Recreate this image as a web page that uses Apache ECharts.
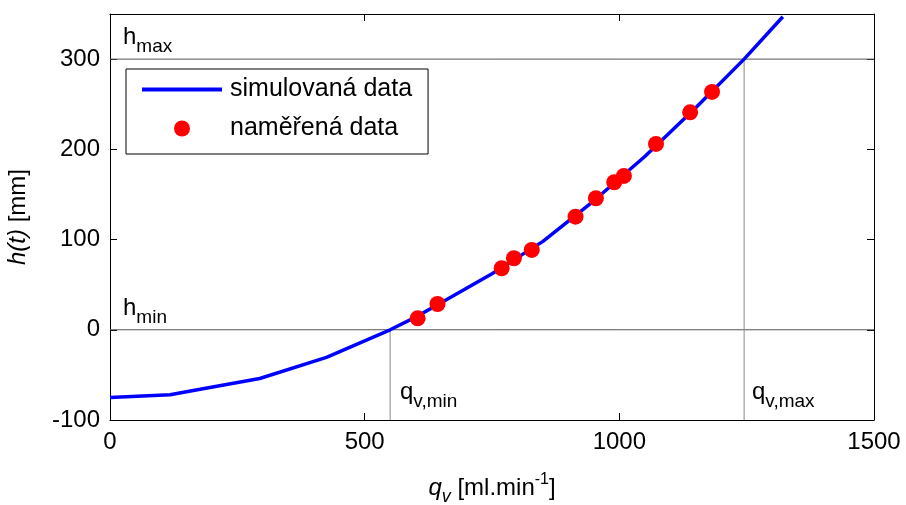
<!DOCTYPE html>
<html><head><meta charset="utf-8">
<script src="https://cdn.jsdelivr.net/npm/echarts@6/dist/echarts.min.js"></script>
<style>html,body{margin:0;padding:0;background:#fff}#c{width:906px;height:505px}</style>
</head><body><div id="c"></div>
<script>
// Simulated curve (blue line)
const simQ = [0, 118, 177, 294, 425, 550, 600, 650, 750, 850, 950, 1050, 1150, 1245, 1321];
const simH = [-75, -72, -66, -54, -30.5, 0, 14, 30, 62, 98, 143, 192, 246, 300, 347];
// Measured data (red dots)
const measQ = [604, 643, 769, 793, 828, 914, 954, 990, 1009, 1072, 1139, 1182];
const measH = [12.7, 28.6, 68.2, 79.3, 88.5, 125.4, 145.8, 163.5, 170.5, 206, 241, 263.6];
// Limits
const hMin = 0, hMax = 300, qMin = 550, qMax = 1245;
// Axes
const xTicks = [0, 500, 1000, 1500];
const yTicks = [-100, 0, 100, 200, 300];
const xRange = [0, 1500];
const yRange = [-100, 350];

const FONT = "'Liberation Sans', Arial, sans-serif";
const zip = (a, b) => a.map((v, i) => [v, b[i]]);

const chart = echarts.init(document.getElementById('c'), null, {renderer: 'canvas'});

const tickCommon = {show: true, inside: true, length: 7, lineStyle: {color: '#000', width: 1}};
const lineCommon = {show: true, onZero: false, lineStyle: {color: '#000', width: 1}};

const rich = {
  m: {fontSize: 24, lineHeight: 24, verticalAlign: 'top', fontFamily: FONT, color: '#000'},
  i: {fontSize: 24, lineHeight: 24, verticalAlign: 'top', fontFamily: FONT, fontStyle: 'italic', color: '#000'},
  sub: {fontSize: 19, lineHeight: 19, verticalAlign: 'top', padding: [12, 0, 0, 0], fontFamily: FONT, color: '#000'},
  subi: {fontSize: 18, lineHeight: 18, verticalAlign: 'top', padding: [12, 0, 0, 0], fontFamily: FONT, fontStyle: 'italic', color: '#000'},
  sup: {fontSize: 16, lineHeight: 16, verticalAlign: 'top', padding: [-4, 0, 0, 0], fontFamily: FONT, color: '#000'}
};

const fmt = v => (xTicks.includes(v) || yTicks.includes(v)) ? String(v) : '';

const option = {
  animation: false,
  backgroundColor: '#fff',
  grid: {left: 110, right: 32, top: 14, bottom: 85, show: false, containLabel: false, outerBoundsMode: 'none'},
  xAxis: [{
    type: 'value', min: xRange[0], max: xRange[1], interval: 500, position: 'bottom',
    axisLine: lineCommon, axisTick: tickCommon, splitLine: {show: false},
    axisLabel: {fontSize: 24, color: '#000', fontFamily: FONT, margin: 10, formatter: fmt},
    name: '{i|q}{subi|v}{m| [ml.min}{sup|-1}{m|]}',
    nameLocation: 'middle', nameGap: 56,
    nameTextStyle: {rich: rich, fontSize: 24, fontFamily: FONT, color: '#000'}
  }, {
    type: 'value', min: xRange[0], max: xRange[1], interval: 500, position: 'top',
    axisLine: lineCommon, axisTick: tickCommon, splitLine: {show: false}, axisLabel: {show: false}
  }],
  yAxis: [{
    type: 'value', min: yRange[0], max: yRange[1], interval: 100, position: 'left',
    axisLine: lineCommon, axisTick: tickCommon, splitLine: {show: false},
    axisLabel: {fontSize: 24, color: '#000', fontFamily: FONT, margin: 10, showMaxLabel: false, formatter: fmt},
    name: '{i|h(t)}{m| [mm]}',
    nameLocation: 'middle', nameGap: 80, nameRotate: 90,
    nameTextStyle: {rich: rich, fontSize: 24, fontFamily: FONT, color: '#000'}
  }, {
    type: 'value', min: yRange[0], max: yRange[1], interval: 100, position: 'right',
    axisLine: lineCommon, axisTick: tickCommon, splitLine: {show: false}, axisLabel: {show: false}
  }],
  legend: {
    data: [
      {name: 'simulovaná data', icon: 'path://M0,0 L80,0 L80,4 L0,4 Z'},
      {name: 'naměřená data', icon: 'circle'}
    ],
    orient: 'vertical', left: 126, top: 69,
    itemWidth: 80, itemHeight: 16, itemGap: 14,
    symbolKeepAspect: true,
    padding: [8, 16, 13, 16],
    borderColor: '#000', borderWidth: 1, backgroundColor: '#fff',
    textStyle: {fontSize: 25, color: '#000', fontFamily: FONT, lineHeight: 24, padding: [0, 0, 0, 3]}
  },
  series: [
    {type: 'line', silent: true, data: [[xRange[0], hMax], [xRange[1], hMax]], symbol: 'none',
     lineStyle: {color: '#555', width: 1}, z: 1},
    {type: 'line', silent: true, data: [[xRange[0], hMin], [xRange[1], hMin]], symbol: 'none',
     lineStyle: {color: '#555', width: 1}, z: 1},
    {type: 'line', silent: true, data: [[qMin, yRange[0]], [qMin, hMin]], symbol: 'none',
     lineStyle: {color: '#888', width: 1}, z: 1},
    {type: 'line', silent: true, data: [[qMax, yRange[0]], [qMax, hMax]], symbol: 'none',
     lineStyle: {color: '#888', width: 1}, z: 1},
    {name: 'simulovaná data', type: 'line', data: zip(simQ, simH), showSymbol: false, symbol: 'none',
     lineStyle: {color: '#0000ff', width: 3.5}, itemStyle: {color: '#0000ff'}, z: 3},
    {name: 'naměřená data', type: 'scatter', data: zip(measQ, measH), symbol: 'circle', symbolSize: 16,
     itemStyle: {color: '#ff0000', opacity: 1}, z: 4}
  ],
  graphic: [
    {type: 'text', left: 123, top: 25, style: {text: '{m|h}{sub|max}', rich: rich}},
    {type: 'text', left: 123, top: 296, style: {text: '{m|h}{sub|min}', rich: rich}},
    {type: 'text', left: 400, top: 380, style: {text: '{m|q}{sub|v,min}', rich: rich}},
    {type: 'text', left: 752, top: 380, style: {text: '{m|q}{sub|v,max}', rich: rich}}
  ]
};
chart.setOption(option);
</script>
</body></html>
